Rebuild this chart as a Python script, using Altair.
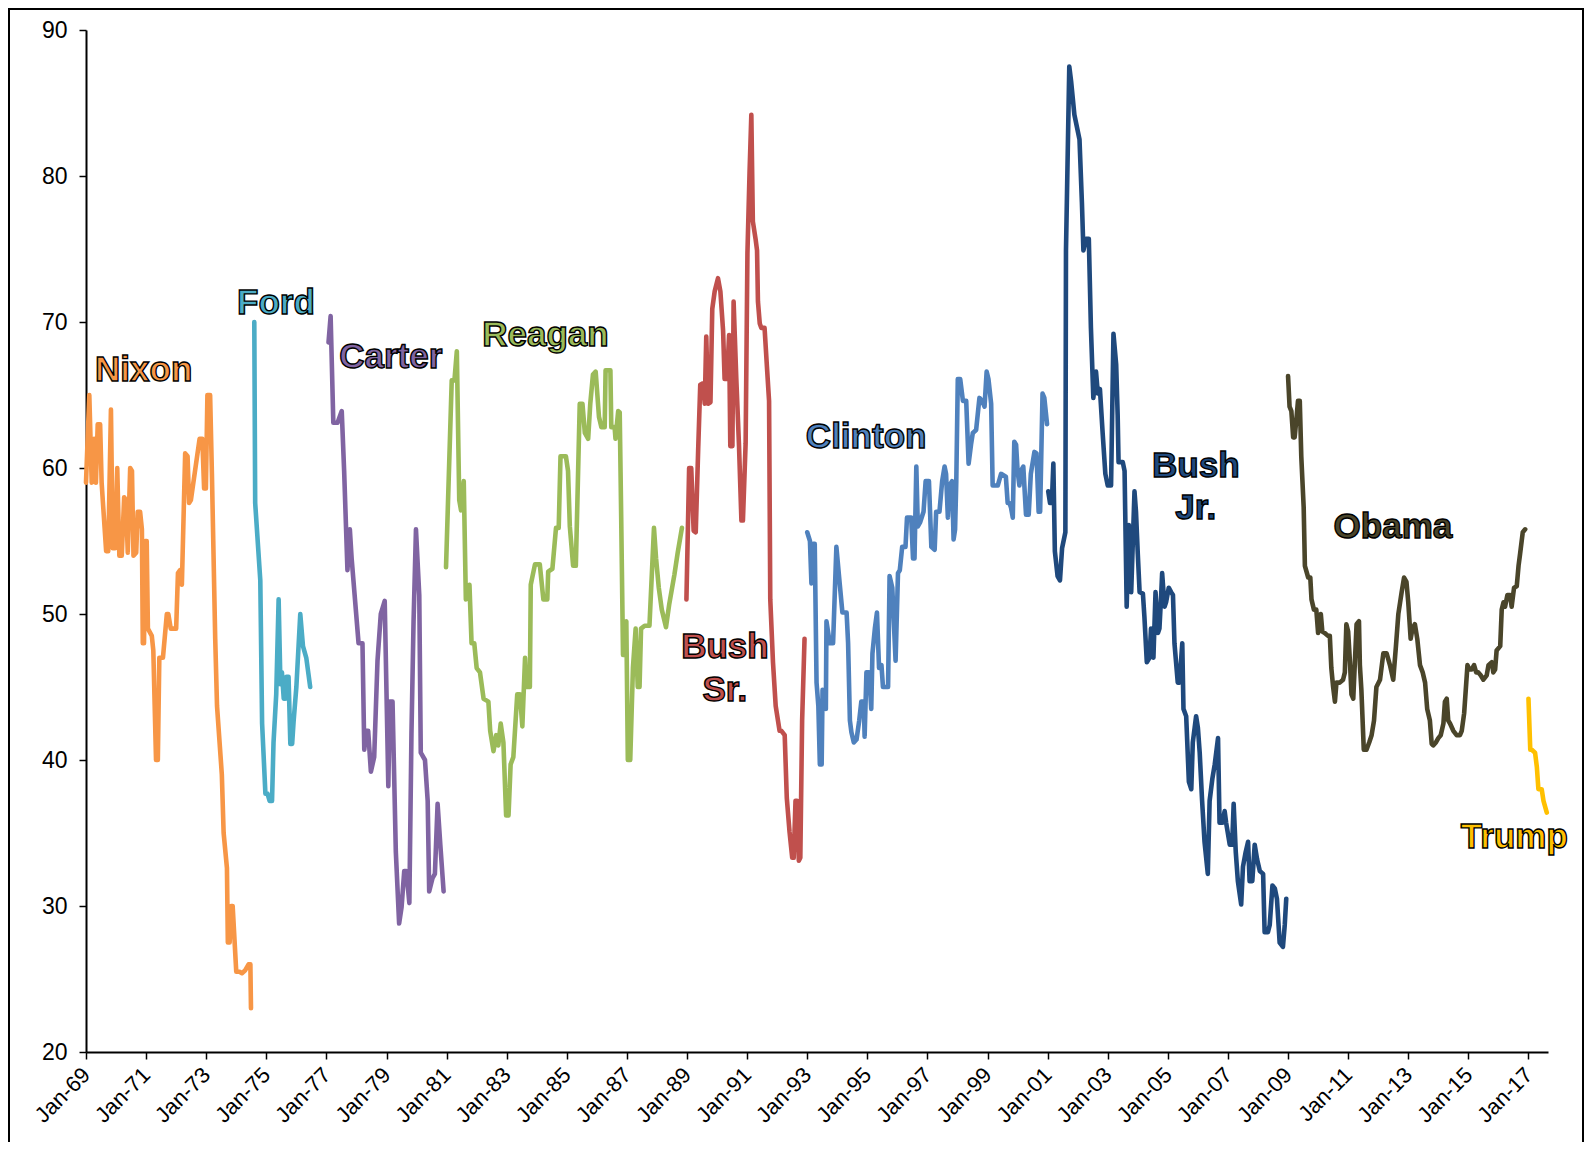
import altair as alt
import pandas as pd

# ---- series: (decimal year, approval %) ----
NIXON = [(1969.00, 59), (1969.11, 65), (1969.19, 59), (1969.27, 62), (1969.33, 59), (1969.39, 63),
         (1969.47, 63), (1969.52, 59), (1969.67, 54.3), (1969.74, 54.3), (1969.83, 64), (1969.89, 54.5),
         (1969.97, 54.5), (1970.04, 60), (1970.11, 54), (1970.19, 54), (1970.27, 58), (1970.33, 57.8),
         (1970.39, 54.2), (1970.47, 60), (1970.53, 59.8), (1970.58, 54), (1970.67, 54.2), (1970.72, 57),
         (1970.80, 57), (1970.86, 55.8), (1970.89, 48), (1970.93, 48), (1970.97, 55), (1971.02, 55),
         (1971.06, 49), (1971.19, 48.5), (1971.24, 47.5), (1971.33, 40), (1971.39, 40), (1971.44, 47),
         (1971.56, 47), (1971.69, 50), (1971.74, 50), (1971.82, 49), (1972.00, 49), (1972.06, 52.8),
         (1972.13, 53), (1972.19, 52), (1972.30, 61), (1972.38, 60.8), (1972.43, 57.6), (1972.49, 57.8),
         (1972.78, 62), (1972.87, 62), (1972.93, 58.6), (1972.99, 58.6), (1973.04, 65), (1973.13, 65),
         (1973.19, 59.6), (1973.30, 48.3), (1973.36, 43.7), (1973.52, 39), (1973.58, 35), (1973.69, 32.6),
         (1973.72, 27.5), (1973.78, 27.5), (1973.83, 30), (1973.88, 30), (1974.00, 25.5), (1974.11, 25.5),
         (1974.19, 25.4), (1974.30, 25.6), (1974.41, 26), (1974.47, 26), (1974.49, 23)]

FORD = [(1974.60, 70), (1974.63, 57.6), (1974.80, 52.3), (1974.86, 42.5), (1974.97, 37.7), (1975.04, 37.7),
        (1975.11, 37.2), (1975.19, 37.2), (1975.24, 41.2), (1975.33, 44.5), (1975.41, 51), (1975.47, 45.2),
        (1975.52, 46), (1975.58, 44.2), (1975.63, 44.2), (1975.67, 45.7), (1975.74, 45.7), (1975.80, 41.1),
        (1975.86, 41.1), (1975.91, 42.7), (1976.00, 45), (1976.13, 50), (1976.22, 47.8), (1976.33, 47),
        (1976.46, 45)]

CARTER = [(1977.07, 68.6), (1977.14, 70.4), (1977.23, 63.1), (1977.37, 63.1), (1977.51, 63.9), (1977.59, 59.8),
          (1977.70, 53), (1977.78, 55.8), (1977.84, 53.8), (1978.07, 48), (1978.20, 48), (1978.26, 40.7),
          (1978.33, 42), (1978.39, 42), (1978.48, 39.2), (1978.59, 40.2), (1978.70, 46.8), (1978.81, 50),
          (1978.94, 50.9), (1979.06, 38.2), (1979.11, 44), (1979.20, 44), (1979.31, 33.7), (1979.42, 28.8),
          (1979.50, 29.9), (1979.59, 32.4), (1979.66, 32.4), (1979.76, 30.2), (1979.83, 41.8), (1979.90, 49.5),
          (1979.98, 55.8), (1980.09, 51.3), (1980.14, 40.5), (1980.28, 40), (1980.37, 37.2), (1980.42, 31),
          (1980.53, 31.9), (1980.61, 32.2), (1980.70, 37), (1980.79, 34.2), (1980.90, 31)]

REAGAN = [(1980.98, 53.2), (1981.17, 66), (1981.26, 66), (1981.34, 68), (1981.42, 57.8), (1981.48, 57.1),
          (1981.57, 59.1), (1981.64, 51), (1981.76, 52), (1981.83, 48), (1981.92, 48), (1982.00, 46.3),
          (1982.11, 46), (1982.23, 44.2), (1982.39, 44), (1982.45, 42), (1982.56, 40.6), (1982.65, 41.7),
          (1982.72, 41), (1982.80, 42.5), (1982.89, 41.2), (1982.98, 36.2), (1983.06, 36.2), (1983.13, 39.7),
          (1983.22, 40.2), (1983.35, 44.5), (1983.44, 44.5), (1983.52, 42.3), (1983.61, 47), (1983.66, 45),
          (1983.77, 45), (1983.80, 52), (1983.94, 53.4), (1984.10, 53.4), (1984.22, 51), (1984.35, 51),
          (1984.38, 52.9), (1984.52, 53.1), (1984.64, 55.9), (1984.73, 55.9), (1984.79, 60.8), (1984.97, 60.8),
          (1985.04, 59.8), (1985.10, 56), (1985.21, 53.3), (1985.30, 53.3), (1985.43, 64.4), (1985.52, 64.4),
          (1985.60, 62.4), (1985.71, 62), (1985.78, 64.4), (1985.87, 66.4), (1985.96, 66.6), (1986.07, 63.5),
          (1986.15, 62.8), (1986.26, 62.8), (1986.29, 66.7), (1986.45, 66.7), (1986.48, 62.8), (1986.59, 62.8),
          (1986.62, 62), (1986.71, 63.9), (1986.76, 63.8), (1986.81, 56.5), (1986.87, 47.2), (1986.92, 47.2),
          (1986.98, 49.5), (1987.03, 40), (1987.11, 40), (1987.20, 46.3), (1987.29, 49), (1987.36, 45),
          (1987.42, 45), (1987.47, 49), (1987.59, 49.2), (1987.75, 49.2), (1987.90, 55.9), (1987.97, 53.8),
          (1988.06, 51.8), (1988.16, 50.3), (1988.30, 49.1), (1988.41, 50.7), (1988.58, 52.7), (1988.69, 54.2),
          (1988.83, 55.9)]

BUSH_SR = [(1988.98, 51), (1989.07, 60), (1989.14, 60), (1989.22, 55.7), (1989.29, 55.6), (1989.37, 61.2),
           (1989.44, 65.7), (1989.53, 65.8), (1989.59, 64.4), (1989.64, 69), (1989.70, 64.4), (1989.78, 64.5),
           (1989.84, 70.9), (1989.92, 72.1), (1990.03, 73), (1990.11, 72.1), (1990.20, 69.4), (1990.25, 66.1),
           (1990.33, 66.1), (1990.40, 69.1), (1990.44, 61.5), (1990.51, 61.5), (1990.55, 71.4), (1990.64, 66.1),
           (1990.73, 61.5), (1990.81, 56.4), (1990.86, 56.4), (1990.95, 61.7), (1991.01, 74.7), (1991.08, 80.2),
           (1991.14, 84.2), (1991.19, 76.9), (1991.28, 75.7), (1991.33, 74.9), (1991.36, 71.4), (1991.42, 69.9),
           (1991.47, 69.6), (1991.58, 69.6), (1991.66, 66.9), (1991.73, 64.6), (1991.77, 51), (1991.86, 46.7),
           (1991.95, 43.7), (1992.08, 42), (1992.14, 42), (1992.25, 41.7), (1992.32, 37.4), (1992.41, 35.1),
           (1992.50, 33.3), (1992.55, 33.3), (1992.61, 37.2), (1992.66, 37.2), (1992.72, 33.1), (1992.77, 33.3),
           (1992.83, 42.7), (1992.91, 48.3)]

CLINTON = [(1993.00, 55.6), (1993.09, 55), (1993.14, 52.1), (1993.20, 54.8), (1993.25, 54.8), (1993.31, 45.3),
           (1993.37, 43.7), (1993.42, 39.7), (1993.48, 39.7), (1993.51, 44.8), (1993.59, 43.7), (1993.62, 43.5),
           (1993.64, 49.5), (1993.75, 48), (1993.86, 48), (1993.97, 54.6), (1994.08, 52.1), (1994.17, 50.1),
           (1994.31, 50.1), (1994.36, 48), (1994.42, 42.7), (1994.47, 41.9), (1994.55, 41.2), (1994.64, 41.4),
           (1994.73, 42.7), (1994.80, 44), (1994.88, 44), (1994.91, 41.6), (1994.97, 46), (1995.06, 46),
           (1995.13, 43.5), (1995.17, 47.3), (1995.25, 49), (1995.32, 50.1), (1995.39, 46.3), (1995.47, 46.5),
           (1995.52, 45), (1995.69, 45), (1995.74, 52.6), (1995.83, 51.8), (1995.94, 46.8), (1996.02, 52.8),
           (1996.08, 53), (1996.16, 54.6), (1996.27, 54.6), (1996.32, 56.6), (1996.46, 56.6), (1996.52, 53.8),
           (1996.57, 53.8), (1996.63, 60.1), (1996.68, 56), (1996.76, 56.3), (1996.87, 57), (1996.94, 59.1),
           (1997.05, 59.1), (1997.13, 54.6), (1997.24, 54.4), (1997.29, 57), (1997.40, 57), (1997.49, 59.1),
           (1997.57, 60.1), (1997.62, 59.6), (1997.68, 56.6), (1997.73, 58.8), (1997.82, 59.1), (1997.87, 55.1),
           (1997.92, 55.8), (1997.96, 59.1), (1998.01, 66.1), (1998.09, 66.1), (1998.18, 64.6), (1998.29, 64.6),
           (1998.37, 60.3), (1998.45, 61.6), (1998.51, 62.4), (1998.62, 62.6), (1998.73, 64.8), (1998.82, 64.6),
           (1998.90, 64.2), (1998.97, 66.6), (1999.03, 66.1), (1999.12, 64.4), (1999.17, 58.8), (1999.34, 58.8),
           (1999.45, 59.6), (1999.61, 59.4), (1999.67, 57.6), (1999.73, 57.6), (1999.78, 57.3), (1999.84, 56.6),
           (1999.89, 61.8), (1999.95, 61.6), (2000.00, 59.8), (2000.06, 58.8), (2000.11, 59.8), (2000.19, 60.1),
           (2000.28, 56.8), (2000.37, 56.8), (2000.44, 59.6), (2000.56, 61.1), (2000.63, 61), (2000.70, 57),
           (2000.75, 57), (2000.83, 65.1), (2000.89, 64.8), (2000.98, 63)]

BUSH_JR = [(2001.02, 58.4), (2001.08, 57.6), (2001.14, 57.6), (2001.19, 60.3), (2001.24, 54.3), (2001.33, 52.6),
           (2001.41, 52.3), (2001.48, 54.5), (2001.59, 55.6), (2001.61, 74.9), (2001.72, 87.5), (2001.78, 86.5),
           (2001.89, 84.2), (2002.06, 82.5), (2002.14, 78.2), (2002.19, 74.9), (2002.28, 75.7), (2002.37, 75.7),
           (2002.44, 69.6), (2002.52, 64.8), (2002.61, 66.6), (2002.67, 65.1), (2002.74, 65.4), (2002.83, 62.4),
           (2002.92, 59.6), (2003.00, 58.8), (2003.11, 58.8), (2003.19, 69.2), (2003.28, 67.1), (2003.33, 63.6),
           (2003.36, 60.4), (2003.50, 60.4), (2003.56, 59.8), (2003.63, 50.5), (2003.70, 56.1), (2003.78, 51.5),
           (2003.89, 58.4), (2003.94, 57), (2004.00, 54.1), (2004.06, 51.5), (2004.17, 51.4), (2004.22, 49.8),
           (2004.30, 46.7), (2004.39, 47), (2004.44, 49), (2004.52, 47), (2004.59, 51.5), (2004.67, 48.7),
           (2004.72, 49), (2004.78, 51.4), (2004.81, 52.8), (2004.89, 50.5), (2004.94, 50.8), (2005.03, 51.8),
           (2005.11, 51.5), (2005.17, 51.3), (2005.22, 48), (2005.33, 45.3), (2005.39, 45.3), (2005.48, 48),
           (2005.52, 43.5), (2005.61, 43), (2005.70, 38.5), (2005.78, 38), (2005.83, 41.2), (2005.94, 43),
           (2006.00, 42.2), (2006.06, 40.5), (2006.14, 37.2), (2006.22, 34.4), (2006.33, 32.2), (2006.39, 37.2),
           (2006.48, 38.7), (2006.56, 39.7), (2006.67, 41.5), (2006.72, 35.7), (2006.81, 35.7), (2006.89, 36.5),
           (2006.94, 35.7), (2007.06, 34.2), (2007.14, 34.2), (2007.19, 37), (2007.26, 33.7), (2007.33, 31.7),
           (2007.44, 30.1), (2007.50, 32.7), (2007.59, 33.7), (2007.67, 34.4), (2007.72, 31.7), (2007.81, 31.7),
           (2007.89, 34.2), (2007.97, 33.2), (2008.06, 32.4), (2008.17, 32.2), (2008.22, 28.2), (2008.33, 28.2),
           (2008.39, 28.7), (2008.48, 31.4), (2008.56, 31.2), (2008.63, 30.5), (2008.72, 27.5), (2008.83, 27.2),
           (2008.89, 28.7), (2008.94, 30.5)]

OBAMA = [(2009.00, 66.3), (2009.05, 64.2), (2009.11, 63.9), (2009.17, 62.1), (2009.22, 62.1), (2009.28, 63.4),
         (2009.33, 64.6), (2009.39, 64.6), (2009.44, 60.8), (2009.52, 57.3), (2009.56, 53.3), (2009.67, 52.5),
         (2009.74, 52.5), (2009.78, 51), (2009.86, 50.3), (2009.94, 50.3), (2010.00, 48.7), (2010.09, 50),
         (2010.14, 48.8), (2010.22, 48.7), (2010.33, 48.5), (2010.39, 48.5), (2010.44, 46.3), (2010.50, 45),
         (2010.56, 44), (2010.61, 45.3), (2010.72, 45.3), (2010.83, 45.5), (2010.89, 46), (2010.94, 49.3),
         (2011.00, 48.8), (2011.06, 46.7), (2011.11, 44.5), (2011.17, 44.2), (2011.28, 49.3), (2011.36, 49.5),
         (2011.39, 46.5), (2011.44, 44.8), (2011.52, 40.7), (2011.61, 40.7), (2011.70, 41.2), (2011.78, 41.7),
         (2011.86, 42.7), (2011.94, 45), (2012.06, 45.5), (2012.17, 47.3), (2012.28, 47.3), (2012.39, 46.5),
         (2012.50, 45.5), (2012.59, 47.8), (2012.67, 50), (2012.78, 51.5), (2012.86, 52.5), (2012.94, 52.2),
         (2013.00, 50.8), (2013.08, 48.3), (2013.14, 49), (2013.22, 49.3), (2013.30, 48.3), (2013.39, 46.5),
         (2013.48, 46), (2013.56, 45.3), (2013.63, 43.5), (2013.72, 42.7), (2013.78, 41.1), (2013.83, 41),
         (2013.92, 41.2), (2014.00, 41.5), (2014.08, 41.7), (2014.17, 42.5), (2014.22, 44), (2014.28, 44.2),
         (2014.33, 42.7), (2014.39, 42.5), (2014.50, 42), (2014.61, 41.7), (2014.72, 41.7), (2014.78, 42),
         (2014.86, 43.2), (2014.92, 45), (2014.97, 46.5), (2015.03, 46.2), (2015.11, 46.2), (2015.19, 46.5),
         (2015.26, 46), (2015.33, 46), (2015.41, 45.8), (2015.50, 45.5), (2015.61, 45.8), (2015.67, 46.5),
         (2015.78, 46.7), (2015.83, 46), (2015.89, 46.2), (2015.94, 47.5), (2016.06, 47.8), (2016.11, 50.3),
         (2016.17, 50.8), (2016.22, 50.5), (2016.30, 51.3), (2016.39, 51.3), (2016.44, 50.5), (2016.52, 51.8),
         (2016.61, 51.9), (2016.67, 53.3), (2016.72, 54.1), (2016.81, 55.6), (2016.89, 55.8)]

TRUMP = [(2017.00, 44.2), (2017.06, 40.7), (2017.11, 40.7), (2017.22, 40.5), (2017.28, 39.5), (2017.33, 38),
         (2017.44, 38), (2017.50, 37.2), (2017.61, 36.4)]

PRESIDENTS = ["Nixon", "Ford", "Carter", "Reagan", "Bush Sr.", "Clinton", "Bush Jr.", "Obama", "Trump"]
SERIES = [NIXON, FORD, CARTER, REAGAN, BUSH_SR, CLINTON, BUSH_JR, OBAMA, TRUMP]
COLORS = ["#F79646", "#4BACC6", "#8064A2", "#9BBB59", "#C0504D", "#4F81BD", "#1F497D", "#4A452A", "#FFC000"]

# name labels (text lines, owner, position in data units)
LABEL_TEXT = ["Nixon", "Ford", "Carter", "Reagan", "Bush", "Sr.", "Clinton", "Bush", "Jr.", "Obama", "Trump"]
LABEL_OWNER = ["Nixon", "Ford", "Carter", "Reagan", "Bush Sr.", "Bush Sr.", "Clinton", "Bush Jr.", "Bush Jr.",
               "Obama", "Trump"]
LABEL_X = [1970.92, 1975.32, 1979.14, 1984.29, 1990.26, 1990.26, 1994.96, 2005.93, 2005.93, 2012.49, 2016.53]
LABEL_Y = [65.96, 70.53, 66.84, 68.37, 46.98, 44.06, 61.35, 59.4, 56.5, 55.23, 33.95]

X_TICKS = list(range(1969, 2018, 2))
Y_TICKS = [20, 30, 40, 50, 60, 70, 80, 90]

rows = []
for name, pts in zip(PRESIDENTS, SERIES):
    for t, v in pts:
        rows.append({"president": name, "t": t, "v": v})
df = pd.DataFrame(rows)
labels = pd.DataFrame({"text": LABEL_TEXT, "president": LABEL_OWNER, "t": LABEL_X, "v": LABEL_Y})

W, H = 1462, 1022
FONT = "Liberation Sans"

color = alt.Color("president:N", scale=alt.Scale(domain=PRESIDENTS, range=COLORS), legend=None)
xenc = alt.X("t:Q", title=None,
             scale=alt.Scale(domain=[1969, 2017.65], nice=False, zero=False),
             axis=alt.Axis(values=X_TICKS, labelAngle=-45, labelAlign="right", labelBaseline="middle",
                           labelExpr="'Jan-' + (datum.value % 100 < 10 ? '0' : '') + (datum.value % 100)",
                           labelFontSize=22, labelPadding=12, tickSize=7, grid=False,
                           labelOverlap=False))
yenc = alt.Y("v:Q", title=None,
             scale=alt.Scale(domain=[20, 90], nice=False, zero=False),
             axis=alt.Axis(values=Y_TICKS, labelFontSize=23, labelPadding=12, tickSize=7, grid=False))

lines = alt.Chart(df).mark_line(strokeWidth=4.6, strokeJoin="round", strokeCap="round").encode(
    x=xenc, y=yenc, color=color, detail="president:N", order="t:Q")

texts = alt.Chart(labels).mark_text(fontSize=35, fontWeight="bold", font=FONT, stroke="black",
                                    strokeWidth=1.4, align="center", baseline="alphabetic").encode(
    x="t:Q", y="v:Q", text="text:N", color=color)

frame = alt.Chart(pd.DataFrame({"f": [0]})).mark_rect(filled=False, stroke="black", strokeWidth=2).encode(
    x=alt.value(-77), x2=alt.value(W + 35), y=alt.value(-21), y2=alt.value(H + 300))

chart = alt.layer(frame, lines, texts).properties(
    width=W, height=H,
    autosize=alt.AutoSizeParams(type="none"),
    padding={"left": 78, "top": 22, "right": 37, "bottom": 90},
    background="white",
).configure_view(stroke=None).configure_axis(
    domainColor="black", domainWidth=2, tickColor="black", tickWidth=1.5,
    labelColor="black", labelFont=FONT,
)

chart.save("out.html", embed_options={"renderer": "svg", "actions": False})
